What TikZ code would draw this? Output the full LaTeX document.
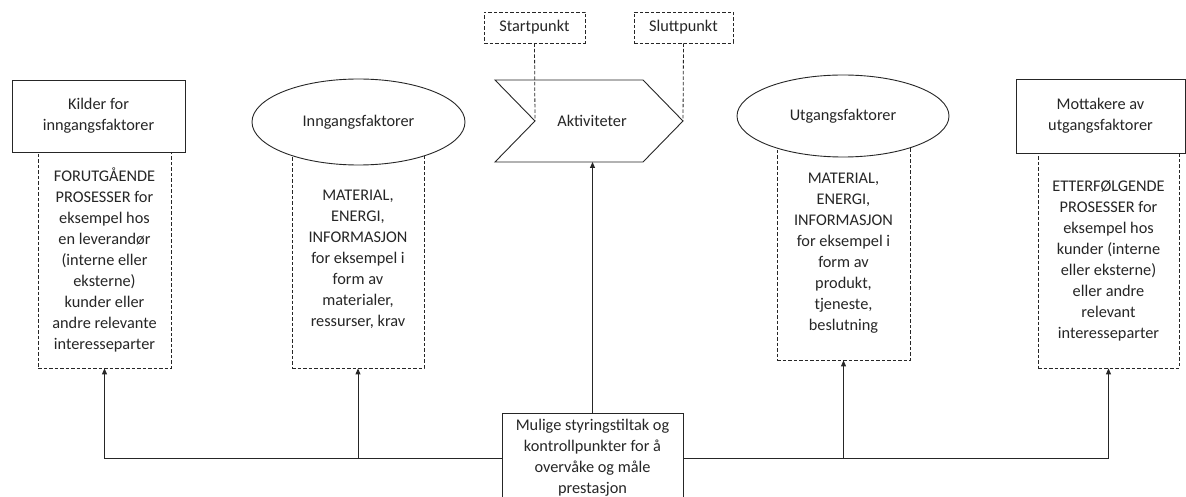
\documentclass[tikz,border=0pt]{standalone}
\usepackage{fontspec}
\setmainfont{Carlito}
\usetikzlibrary{arrows.meta,shapes.geometric}
\definecolor{ink}{HTML}{262626}
\tikzset{
  txt/.style={font=\fontsize{16.3}{21}\selectfont, text=ink, align=center, inner sep=0pt},
  solidbox/.style={txt, draw=ink, line width=0.9pt, fill=white},
  dashbox/.style={txt, draw=ink, line width=0.8pt, dash pattern=on 3.5pt off 2pt, fill=white},
  oval/.style={txt, ellipse, draw=ink, line width=0.9pt, fill=white},
  arr/.style={draw=ink, line width=0.9pt, -{Triangle[length=6pt,width=5pt]}},
  dline/.style={draw=ink, line width=0.8pt, dash pattern=on 3.5pt off 2pt},
}
\begin{document}
\begin{tikzpicture}[x=1pt,y=-1pt]
\useasboundingbox (0,0) rectangle (1186,497);
\begin{scope}
\clip (0,0) rectangle (1186,497);
% dashed detail boxes
\node[dashbox, minimum width=133pt, minimum height=216pt] (d1) at (104.5,260)
  {FORUTGÅENDE\\PROSESSER for\\eksempel hos\\en leverandør\\(interne eller\\eksterne)\\kunder eller\\andre relevante\\interesseparter};
\node[dashbox, minimum width=132pt, minimum height=218pt] (d2) at (358,259)
  {MATERIAL,\\ENERGI,\\INFORMASJON\\for eksempel i\\form av\\materialer,\\ressurser, krav};
\node[dashbox, minimum width=133pt, minimum height=214pt] (d3) at (843.5,253)
  {MATERIAL,\\ENERGI,\\INFORMASJON\\for eksempel i\\form av\\produkt,\\tjeneste,\\beslutning};
\node[dashbox, minimum width=141pt, minimum height=215pt] (d4) at (1108.5,260.5)
  {ETTERFØLGENDE\\PROSESSER for\\eksempel hos\\kunder (interne\\eller eksterne)\\eller andre\\relevant\\interesseparter};
% top shapes
\node[solidbox, minimum width=173pt, minimum height=72pt] (kil) at (98.5,116) {Kilder for\\inngangsfaktorer};
\node[oval, minimum width=213pt, minimum height=86pt] (inn) at (358.5,122) {Inngangsfaktorer};
\node[oval, minimum width=212pt, minimum height=82pt] (utg) at (843,116) {Utgangsfaktorer};
\node[solidbox, minimum width=169pt, minimum height=74pt] (mot) at (1100.5,116) {Mottakere av\\utgangsfaktorer};
% activity chevron
\draw[ink, line width=0.9pt, fill=white] (495,80) -- (643,80) -- (683,121) -- (643,162) -- (495,162) -- (535,121) -- cycle;
\node[txt] (act) at (592,121) {Aktiviteter};
\coordinate (notch) at (535,121);
\coordinate (tip) at (683,121);
\coordinate (actbot) at (592.5,162);
% start / end markers
\node[dashbox, minimum width=101pt, minimum height=31pt] (start) at (534.5,27.5) {Startpunkt};
\node[dashbox, minimum width=99pt, minimum height=31pt] (slutt) at (683.5,27.5) {Sluttpunkt};
\draw[dline] (start.south) -- (notch);
\draw[dline] (slutt.south) -- (tip);
% control box
\node[solidbox, anchor=north, minimum width=181pt, inner ysep=6pt] (ctrl) at (592.5,413)
  {Mulige styringstiltak og\\kontrollpunkter for å\\overvåke og måle\\prestasjon\\ };
\coordinate (jl) at (502,458);
\coordinate (jr) at (683,458);
\draw[arr] (ctrl.north) -- (actbot);
\draw[arr] (jl) -| (d1.south);
\draw[arr] (jl) -| (d2.south);
\draw[arr] (jr) -| (d3.south);
\draw[arr] (jr) -| (d4.south);
\end{scope}
\end{tikzpicture}
\end{document}
